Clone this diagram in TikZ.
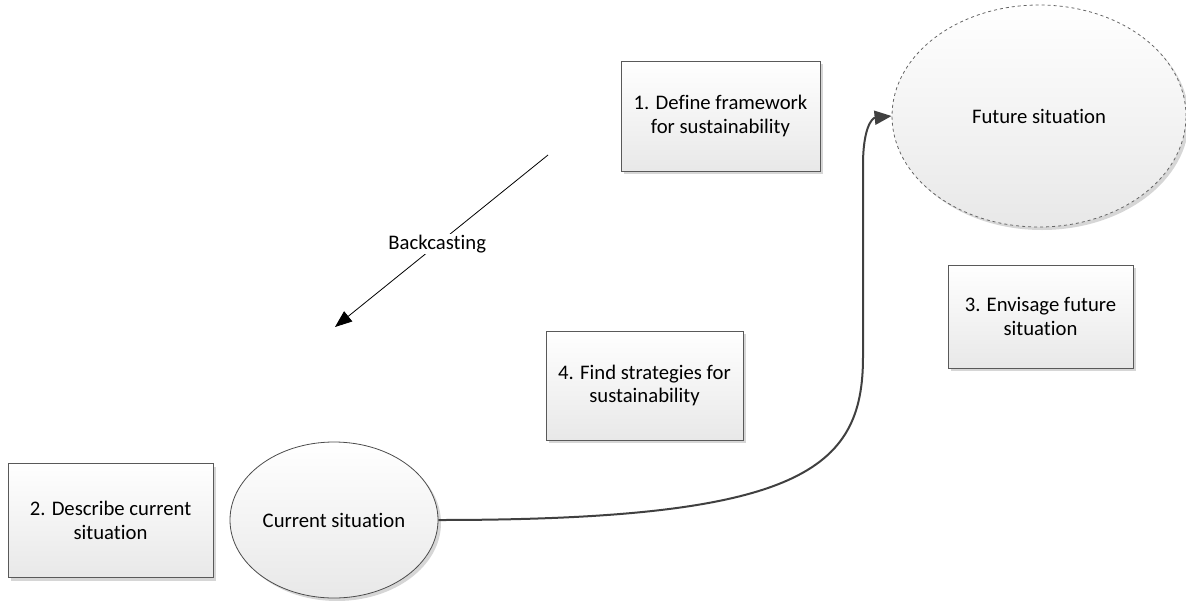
\documentclass[tikz,border=0pt]{standalone}
\usepackage{fontspec}
\setmainfont{Carlito}[Ligatures={NoCommon,NoRare,NoDiscretionary}]
\usetikzlibrary{arrows.meta,shapes.geometric,shadows}

\begin{document}
\begin{tikzpicture}[x=1pt,y=-1pt,
  txt/.style={font=\fontsize{20.7}{23.5}\selectfont, text=black, align=center},
  softshadow/.style={drop shadow={shadow xshift=3pt, shadow yshift=-3pt, fill=black!16, opacity=1}},
  stepbox/.style={txt, rectangle, draw=black!65, line width=0.8pt,
    top color=white, bottom color=black!9, softshadow, inner sep=0pt},
  situation/.style={txt, ellipse, draw=black!70, line width=0.8pt,
    top color=white, bottom color=black!9, softshadow, inner sep=0pt},
  flow/.style={draw=black!75, line width=2pt, -{Triangle[length=17pt,width=14pt]}},
  backarrow/.style={draw=black, line width=0.8pt, -{Triangle[length=17pt,width=13pt]}}
]
\useasboundingbox (0,0) rectangle (1186,600);

% step boxes
\node[stepbox, minimum width=199pt, minimum height=110pt] (define) at (720.5,116)
  {1. Define framework\\for sustainability};
\node[stepbox, minimum width=205pt, minimum height=114pt] (describe) at (110.5,520.5)
  {2. Describe current\\situation};
\node[stepbox, minimum width=185pt, minimum height=103pt] (envisage) at (1040.5,316.5)
  {3. Envisage future\\situation};
\node[stepbox, minimum width=197pt, minimum height=109pt] (strategies) at (644.5,385.5)
  {4. Find strategies for\\sustainability};

% situations
\node[situation, minimum width=208pt, minimum height=156pt] (current) at (334,520)
  {Current situation};
\node[situation, dashed, draw=black!60, minimum width=294pt, minimum height=222pt] (future) at (1039,116)
  {Future situation};

% path from the current to the future situation
\draw[flow] (current.east)
  .. controls (800,520) and (863,470) .. (863,357)
  -- (863,165)
  .. controls (863,128) and (872,118) .. (future.west);

% backcasting arrow
\coordinate (bcstart) at (548,155);
\coordinate (bcend) at (335,327);
\draw[backarrow] (bcstart) -- (bcend)
  node[txt, pos=0.52, fill=white, inner sep=1pt] (bclabel) {Backcasting};
\end{tikzpicture}
\end{document}
